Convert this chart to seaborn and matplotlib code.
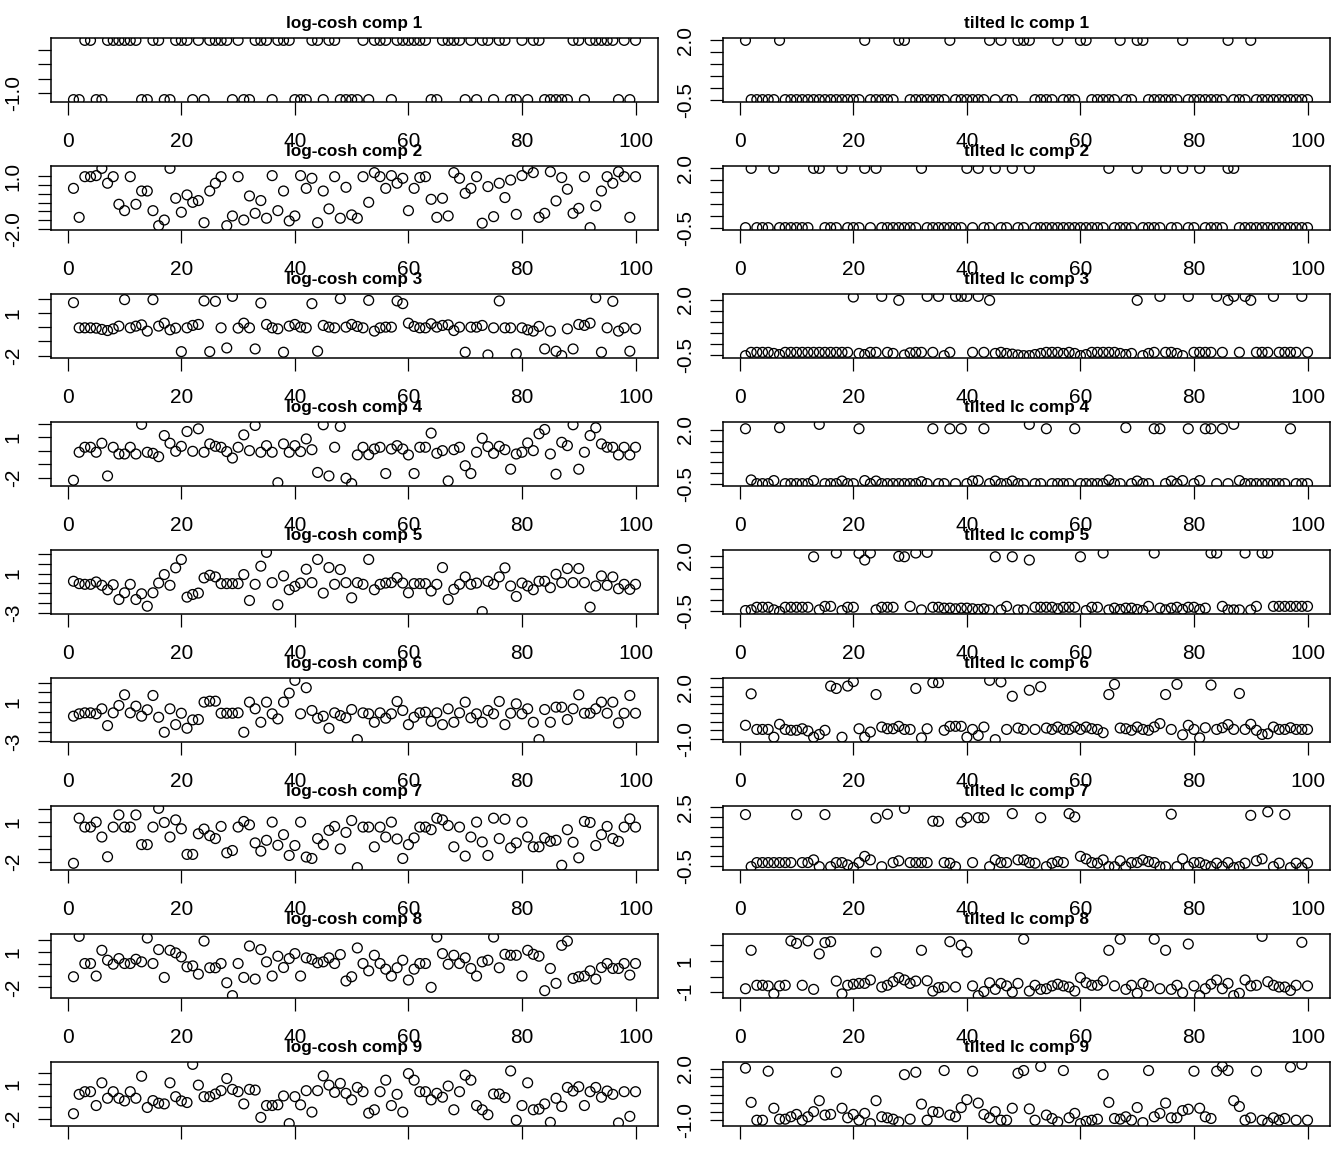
import pandas as pd
import seaborn as sns
import matplotlib
matplotlib.use("Agg")
import matplotlib.pyplot as plt

# observation index shared by every panel
obs = list(range(1, 101))

logcosh_1 = [-1.22, -1.22, 0.82, 0.82, -1.22, -1.22, 0.82, 0.82, 0.82, 0.82,
             0.82, 0.82, -1.22, -1.22, 0.82, 0.82, -1.22, -1.22, 0.82, 0.82,
             0.82, -1.22, 0.82, -1.22, 0.82, 0.82, 0.82, 0.82, -1.22, 0.82,
             -1.22, -1.22, 0.82, 0.82, 0.82, -1.22, 0.82, 0.82, 0.82, -1.22,
             -1.22, -1.22, 0.82, 0.82, -1.22, 0.82, 0.82, -1.22, -1.22, -1.22,
             -1.22, 0.82, -1.22, 0.82, 0.82, 0.82, -1.22, 0.82, 0.82, 0.82,
             0.82, 0.82, 0.82, -1.22, -1.22, 0.82, 0.82, 0.82, 0.82, -1.22,
             0.82, -1.22, 0.82, 0.82, -1.22, 0.82, 0.82, -1.22, -1.22, 0.82,
             -1.22, 0.82, 0.82, -1.22, -1.22, -1.22, -1.22, -1.22, 0.82, 0.82,
             -1.22, 0.82, 0.82, 0.82, 0.82, 0.82, -1.22, 0.82, -1.22, 0.82]

logcosh_2 = [0.30, -1.34, 0.96, 0.96, 1.02, 1.43, 0.59, 0.96, -0.60, -0.96,
             0.96, -0.60, 0.15, 0.15, -0.96, -1.81, -1.49, 1.43, -0.26, -1.05,
             -0.07, -0.49, -0.39, -1.64, 0.15, 0.59, 0.96, -1.81, -1.26, 0.96,
             -1.49, -0.13, -1.11, -0.39, -1.39, 1.02, -0.96, 0.15, -1.54, -1.26,
             1.02, 0.30, 0.87, -1.64, 0.15, -0.86, 0.96, -1.39, 0.36, -1.20,
             -1.39, 0.96, -0.49, 1.19, 0.96, 0.30, 1.02, 0.59, 0.87, -0.96,
             0.30, 0.91, 0.96, -0.32, -1.34, -0.26, -1.26, 1.19, 0.87, 0.02,
             0.30, 0.96, -1.67, 0.40, -1.30, 0.59, -0.22, 0.77, -1.17, 1.02,
             1.43, 1.19, -1.34, -1.11, 1.24, -0.41, 0.91, 0.25, -1.11, -0.83,
             0.96, -1.92, -0.69, 0.15, 0.96, 0.59, 1.24, 0.96, -1.34, 0.96]

logcosh_3 = [1.72, -0.05, -0.05, -0.05, -0.07, -0.16, -0.24, -0.12, 0.07, 1.93,
             -0.05, 0.07, 0.16, -0.28, 1.93, 0.07, 0.28, -0.19, -0.07, -1.72,
             -0.05, 0.12, 0.19, 1.84, -1.72, 1.81, -0.05, -1.46, 2.16, -0.07,
             0.28, -0.05, -1.53, 1.69, 0.19, -0.05, -0.12, -1.76, 0.07, 0.19,
             0.00, -0.05, 1.65, -1.69, 0.12, 0.00, -0.05, 2.00, 0.00, 0.19,
             0.05, -0.05, 1.88, -0.28, -0.05, 0.00, 0.00, 1.84, 1.65, 0.28,
             0.05, -0.05, -0.05, 0.24, 0.00, 0.12, 0.16, -0.24, 0.00, -1.76,
             0.00, 0.00, 0.12, -1.95, -0.05, 1.84, -0.05, -0.05, -1.88, -0.05,
             -0.19, -0.28, 0.05, -1.53, -0.28, -1.69, -2.00, -0.12, -1.53, 0.19,
             0.12, 0.28, 2.07, -1.76, -0.05, 1.81, -0.28, -0.05, -1.69, -0.12]

logcosh_4 = [-2.20, -0.12, 0.25, 0.25, -0.12, 0.55, -1.88, 0.25, -0.25, -0.25,
             0.25, -0.25, 1.95, -0.12, -0.20, -0.45, 1.12, 0.55, -0.05, 0.32,
             1.42, -0.05, 1.62, -0.12, 0.50, 0.32, 0.25, -0.07, -0.55, 0.25,
             1.17, 0.00, 1.87, -0.12, 0.37, -0.12, -2.38, 0.50, -0.12, 0.37,
             -0.07, 0.87, 0.07, -1.62, 1.92, -1.88, 0.25, 1.80, -2.05, -2.45,
             -0.32, 0.25, -0.30, 0.12, 0.25, -1.70, 0.12, 0.37, 0.12, -0.32,
             -1.70, 0.25, 0.25, 1.30, -0.20, 0.00, -2.25, 0.07, 0.25, -1.12,
             -1.70, -0.12, 0.92, 0.30, -0.20, 0.32, 0.07, -1.38, -0.25, -0.12,
             0.57, 0.00, 1.25, 1.57, -0.25, -1.75, 0.62, 0.37, 1.92, -1.38,
             -0.12, 1.12, 1.70, 0.50, 0.25, 0.25, -0.32, 0.25, -0.32, 0.25]

logcosh_5 = [0.22, -0.02, -0.09, -0.09, 0.15, -0.19, -0.64, -0.13, -1.63, -0.95,
             -0.09, -1.63, -1.05, -2.31, -0.95, 0.04, 0.90, -0.19, 1.58, 2.43,
             -1.39, -1.12, -0.98, 0.56, 0.83, 0.66, -0.02, -0.02, -0.02, -0.02,
             0.90, -1.73, -0.09, 1.75, 3.15, 0.08, -2.17, 0.76, -0.64, -0.30,
             0.04, 1.44, 0.08, 2.43, -0.98, 1.61, -0.09, 1.41, 0.08, -1.46,
             0.08, -0.09, 2.43, -0.64, -0.09, 0.04, 0.08, 0.59, 0.04, -0.95,
             -0.02, -0.02, -0.02, -0.77, -0.09, 1.61, -1.63, -0.60, -0.09, 0.66,
             -0.09, 0.04, -2.86, 0.22, -0.09, 0.66, 1.58, -0.26, -1.32, 0.04,
             -0.26, -0.64, 0.22, 0.22, -0.43, 0.93, 0.08, 1.51, 0.08, 1.51,
             0.08, -2.41, -0.26, 0.76, -0.19, 0.66, -0.54, -0.09, -0.60, -0.09]

logcosh_6 = [-0.43, -0.19, -0.09, -0.09, -0.19, 0.32, -1.39, -0.09, 0.66, 1.75,
             -0.09, 0.59, -0.43, 0.22, 1.68, -0.54, -2.07, 0.32, -1.29, -0.13,
             -1.66, -0.81, -0.77, 1.00, 1.10, 1.10, -0.13, -0.13, -0.13, -0.09,
             -2.07, 1.00, 0.32, -1.05, 1.00, -0.19, -0.71, 1.00, 1.92, 3.22,
             -0.19, 2.47, 0.15, -0.64, -0.43, -1.66, -0.09, -0.37, -0.60, 0.25,
             -2.82, -0.09, -0.19, -1.05, -0.09, -0.64, -0.19, 1.07, 0.15, -1.29,
             -0.54, -0.09, -0.02, -0.95, -0.09, -1.29, 0.32, -1.05, -0.09, 1.00,
             -0.60, -0.19, -1.05, 0.15, -0.19, 1.07, -1.29, -0.13, 0.83, -0.19,
             0.32, -1.05, -2.82, 0.25, -1.05, 0.49, 0.49, -0.77, 0.32, 1.75,
             -0.13, -0.13, 0.32, 1.00, -0.13, 1.00, -1.12, -0.13, 1.68, -0.13]

logcosh_7 = [-2.12, 1.33, 0.65, 0.65, 1.03, -0.11, -1.62, 0.65, 1.58, 0.65,
             0.65, 1.58, -0.69, -0.69, 0.65, 2.08, 1.00, -0.11, 1.20, 0.52,
             -1.44, -1.44, 0.14, 0.50, -0.01, -0.23, 0.70, -1.32, -1.14, 0.65,
             1.08, 0.82, -0.56, -1.19, -0.36, 1.03, -0.74, 0.07, -1.52, -0.76,
             1.03, -1.64, -1.75, -0.23, -0.69, 0.40, 0.70, -1.02, 0.24, 1.15,
             -2.45, 0.65, 0.65, -0.86, 0.65, -0.11, 1.03, -0.26, -1.75, -0.69,
             -0.18, 0.65, 0.65, 0.45, 1.33, 1.20, 0.77, -0.86, 0.65, -1.57,
             -0.11, 1.03, -0.49, -1.52, 1.33, -0.23, 1.25, -0.94, -0.56, 1.03,
             -0.11, -0.86, -0.86, -0.18, -0.44, -0.36, -2.27, 0.45, -0.51, -1.70,
             1.08, 1.00, -0.76, 0.07, 0.70, -0.23, -0.44, 0.65, 1.28, 0.65]

logcosh_8 = [-1.10, 2.32, 0.02, 0.02, -1.04, 1.14, 0.30, -0.04, 0.44, 0.02,
             0.02, 0.38, 0.16, 2.18, 0.02, 1.20, -1.16, 1.14, 0.92, 0.58,
             -0.26, -0.18, -0.88, 1.92, -0.34, -0.34, 0.02, -1.61, -2.70, 0.02,
             -1.16, 1.50, -1.30, 1.20, 0.16, -1.04, 0.64, -0.32, 0.44, 0.86,
             -1.04, 0.50, 0.38, 0.08, 0.16, 0.50, 0.02, 0.78, -1.46, -1.10,
             1.34, 0.02, -0.60, 0.72, 0.02, -0.46, -1.04, -0.34, 0.30, -1.38,
             -0.46, 0.02, 0.02, -2.00, 2.26, 0.86, -0.04, 0.72, 0.02, 0.50,
             -0.40, -1.04, 0.16, 0.30, 2.26, -0.34, 0.80, 0.72, 0.72, -1.04,
             1.14, 0.80, 0.64, -2.28, -0.40, -1.66, 1.56, 1.92, -1.24, -1.10,
             -1.04, -0.60, -1.30, -0.32, 0.02, -0.40, -0.40, 0.02, -0.96, 0.02]

logcosh_9 = [-1.54, 0.14, 0.37, 0.37, -0.83, 1.14, -0.20, 0.37, -0.20, -0.43,
             0.37, -0.20, 1.71, -1.00, -0.40, -0.63, -0.69, 1.14, -0.06, -0.43,
             -0.57, 2.74, 0.94, -0.06, -0.06, 0.17, 0.46, 1.51, 0.57, 0.37,
             -0.69, 0.57, 0.51, -1.86, -0.83, -0.83, -0.77, 0.00, -2.40, -0.06,
             -0.77, 0.46, -1.40, 0.46, 1.74, 0.94, 0.31, 1.09, 0.23, -0.34,
             0.74, 0.37, -1.49, -1.20, 0.37, 1.37, -0.83, 0.14, -1.40, 1.94,
             1.37, 0.37, 0.37, -0.34, 0.23, -0.11, 0.86, -1.20, 0.37, 1.80,
             1.37, -0.83, -1.20, -1.63, 0.17, 0.17, -0.14, 2.17, -2.11, -0.83,
             1.14, -1.20, -1.14, -0.69, -2.29, -0.20, -0.91, 0.74, 0.43, 0.80,
             -0.83, 0.37, 0.74, -0.11, 0.43, 0.14, -2.34, 0.37, -1.77, 0.37]

tilted_1 = [2.0, -0.5, -0.5, -0.5, -0.5, -0.5, 2.0, -0.5, -0.5, -0.5,
            -0.5, -0.5, -0.5, -0.5, -0.5, -0.5, -0.5, -0.5, -0.5, -0.5,
            -0.5, 2.0, -0.5, -0.5, -0.5, -0.5, -0.5, 2.0, 2.0, -0.5,
            -0.5, -0.5, -0.5, -0.5, -0.5, -0.5, 2.0, -0.5, -0.5, -0.5,
            -0.5, -0.5, -0.5, 2.0, -0.5, 2.0, -0.5, -0.5, 2.0, 2.0,
            2.0, -0.5, -0.5, -0.5, -0.5, 2.0, -0.5, -0.5, -0.5, 2.0,
            2.0, -0.5, -0.5, -0.5, -0.5, -0.5, 2.0, -0.5, -0.5, 2.0,
            2.0, -0.5, -0.5, -0.5, -0.5, -0.5, -0.5, 2.0, -0.5, -0.5,
            -0.5, -0.5, -0.5, -0.5, -0.5, 2.0, -0.5, -0.5, -0.5, 2.0,
            -0.5, -0.5, -0.5, -0.5, -0.5, -0.5, -0.5, -0.5, -0.5, -0.5]

tilted_2 = [-0.5, 2.0, -0.5, -0.5, -0.5, 2.0, -0.5, -0.5, -0.5, -0.5,
            -0.5, -0.5, 2.0, 2.0, -0.5, -0.5, -0.5, 2.0, -0.5, -0.5,
            -0.5, 2.0, -0.5, 2.0, -0.5, -0.5, -0.5, -0.5, -0.5, -0.5,
            -0.5, 2.0, -0.5, -0.5, -0.5, -0.5, -0.5, -0.5, -0.5, 2.0,
            -0.5, 2.0, -0.5, -0.5, 2.0, -0.5, -0.5, 2.0, -0.5, -0.5,
            2.0, -0.5, -0.5, -0.5, -0.5, -0.5, -0.5, -0.5, -0.5, -0.5,
            -0.5, -0.5, -0.5, -0.5, 2.0, -0.5, -0.5, -0.5, -0.5, 2.0,
            -0.5, -0.5, -0.5, -0.5, 2.0, -0.5, -0.5, 2.0, -0.5, -0.5,
            2.0, -0.5, -0.5, -0.5, -0.5, 2.0, 2.0, -0.5, -0.5, -0.5,
            -0.5, -0.5, -0.5, -0.5, -0.5, -0.5, -0.5, -0.5, -0.5, -0.5]

tilted_3 = [-0.55, -0.40, -0.40, -0.40, -0.40, -0.45, -0.50, -0.40, -0.40, -0.40,
            -0.40, -0.40, -0.40, -0.40, -0.40, -0.40, -0.40, -0.40, -0.40, 2.12,
            -0.45, -0.50, -0.40, -0.40, 2.15, -0.40, -0.45, 1.97, -0.52, -0.42,
            -0.40, -0.40, 2.15, -0.40, 2.15, -0.55, -0.40, 2.15, 2.15, 2.15,
            -0.40, 2.15, -0.40, 1.97, -0.45, -0.40, -0.45, -0.48, -0.52, -0.55,
            -0.55, -0.50, -0.45, -0.40, -0.40, -0.40, -0.45, -0.40, -0.45, -0.55,
            -0.50, -0.40, -0.40, -0.40, -0.40, -0.40, -0.45, -0.50, -0.45, 1.97,
            -0.55, -0.45, -0.40, 2.15, -0.40, -0.40, -0.45, -0.55, 2.15, -0.40,
            -0.40, -0.40, -0.40, 2.15, -0.40, 1.97, 2.15, -0.40, 2.15, 1.97,
            -0.40, -0.40, -0.40, 2.15, -0.40, -0.40, -0.40, -0.40, 2.15, -0.40]

tilted_4 = [2.05, -0.30, -0.47, -0.47, -0.47, -0.33, 2.10, -0.47, -0.47, -0.47,
            -0.47, -0.47, -0.33, 2.25, -0.47, -0.47, -0.47, -0.35, -0.47, -0.47,
            2.05, -0.33, -0.47, -0.35, -0.47, -0.47, -0.47, -0.47, -0.47, -0.47,
            -0.47, -0.38, -0.47, 2.05, -0.47, -0.47, 2.05, -0.47, 2.05, -0.47,
            -0.35, -0.33, 2.05, -0.47, -0.35, -0.47, -0.47, -0.35, -0.47, -0.47,
            2.25, -0.47, -0.47, 2.05, -0.47, -0.47, -0.47, -0.47, 2.05, -0.47,
            -0.47, -0.47, -0.47, -0.47, -0.30, -0.47, -0.47, 2.10, -0.47, -0.35,
            -0.47, -0.47, 2.05, 2.05, -0.47, -0.35, -0.47, -0.33, 2.05, -0.47,
            -0.33, 2.05, 2.05, -0.47, 2.05, -0.47, 2.25, -0.33, -0.47, -0.47,
            -0.47, -0.47, -0.47, -0.47, -0.47, -0.47, 2.05, -0.47, -0.47, -0.47]

tilted_5 = [-0.50, -0.47, -0.35, -0.35, -0.35, -0.47, -0.55, -0.35, -0.35, -0.35,
            -0.35, -0.35, 1.95, -0.47, -0.31, -0.31, 2.12, -0.50, -0.35, -0.35,
            2.11, 1.80, 2.12, -0.47, -0.35, -0.35, -0.35, 1.97, 1.95, -0.31,
            2.12, -0.47, 2.15, -0.35, -0.35, -0.39, -0.39, -0.42, -0.39, -0.39,
            -0.42, -0.45, -0.42, -0.47, 1.95, -0.47, -0.31, 1.95, -0.47, -0.47,
            1.80, -0.35, -0.35, -0.35, -0.35, -0.42, -0.35, -0.35, -0.35, 1.95,
            -0.50, -0.35, -0.35, 2.12, -0.47, -0.39, -0.45, -0.39, -0.39, -0.45,
            -0.50, -0.31, 2.12, -0.39, -0.47, -0.39, -0.35, -0.45, -0.35, -0.35,
            -0.45, -0.39, 2.12, 2.12, -0.31, -0.47, -0.47, -0.47, 2.12, -0.47,
            -0.31, 2.12, 2.12, -0.31, -0.31, -0.31, -0.31, -0.31, -0.31, -0.31]

tilted_6 = [-0.21, 1.61, -0.45, -0.45, -0.45, -0.90, -0.15, -0.45, -0.50, -0.50,
            -0.41, -0.54, -0.90, -0.74, -0.50, 2.06, 1.92, -0.90, 2.06, 2.32,
            -0.41, -0.90, -0.60, 1.57, -0.31, -0.41, -0.41, -0.27, -0.45, -0.45,
            1.92, -0.94, -0.41, 2.26, 2.26, -0.50, -0.27, -0.27, -0.27, -0.90,
            -0.45, -0.80, -0.31, 2.39, -1.04, 2.30, -0.45, 1.47, -0.37, -0.45,
            1.82, -0.45, 2.02, -0.37, -0.45, -0.31, -0.45, -0.45, -0.31, -0.45,
            -0.31, -0.41, -0.45, -0.64, 1.57, 2.16, -0.37, -0.41, -0.50, -0.31,
            -0.45, -0.50, -0.31, -0.11, 1.57, -0.45, 2.16, -0.76, -0.21, -0.45,
            -0.94, -0.35, 2.12, -0.45, -0.35, -0.17, -0.45, 1.63, -0.45, -0.15,
            -0.50, -0.74, -0.70, -0.31, -0.45, -0.45, -0.35, -0.45, -0.45, -0.45]

tilted_7 = [2.13, -0.55, -0.34, -0.34, -0.34, -0.34, -0.34, -0.34, -0.34, 2.13,
            -0.34, -0.34, -0.20, -0.55, 2.13, -0.55, -0.34, -0.34, -0.46, -0.60,
            -0.34, -0.02, -0.20, 1.95, -0.55, 2.15, -0.34, -0.25, 2.45, -0.34,
            -0.34, -0.34, -0.34, 1.79, 1.78, -0.34, -0.37, -0.55, 1.74, 1.97,
            -0.34, 1.97, 1.97, -0.55, -0.20, -0.34, -0.34, 2.18, -0.20, -0.20,
            -0.34, -0.37, 1.97, -0.55, -0.37, -0.29, -0.34, 2.18, 2.01, -0.02,
            -0.15, -0.34, -0.37, -0.20, -0.55, -0.55, -0.25, -0.55, -0.34, -0.34,
            -0.20, -0.29, -0.34, -0.55, -0.55, 2.15, -0.55, -0.15, -0.55, -0.34,
            -0.34, -0.46, -0.55, -0.37, -0.55, -0.34, -0.60, -0.55, -0.37, 2.09,
            -0.25, -0.15, 2.27, -0.55, -0.37, 2.13, -0.60, -0.37, -0.60, -0.37]

tilted_8 = [-0.78, 1.67, -0.56, -0.56, -0.60, -1.11, -0.60, -0.56, 2.27, 2.11,
            -0.56, 2.27, -0.82, 1.44, 2.16, 2.22, -0.29, -1.11, -0.56, -0.49,
            -0.44, -0.44, -0.22, 1.56, -0.67, -0.56, -0.33, -0.07, -0.22, -0.44,
            -0.29, 1.67, -0.27, -0.93, -0.71, -0.67, 2.22, -0.67, 2.00, 1.56,
            -0.60, -1.22, -0.96, -0.40, -0.82, -0.44, -0.60, -1.00, -0.44, 2.38,
            -0.93, -0.56, -0.82, -0.78, -0.60, -0.49, -0.60, -0.67, -0.93, -0.07,
            -0.40, -0.56, -0.56, -0.27, 1.67, -0.60, 2.38, -0.82, -0.56, -1.07,
            -0.44, -0.60, 2.38, -0.78, 1.67, -0.82, -0.56, -1.04, 2.07, -0.60,
            -1.22, -0.78, -0.49, -0.22, -0.78, -0.44, -1.22, -1.07, -0.22, -0.60,
            -0.56, 2.56, -0.33, -0.56, -0.67, -0.67, -0.89, -0.56, 2.18, -0.60]

tilted_9 = [2.04, 0.04, -1.00, -1.00, 1.86, -0.30, -0.94, -0.94, -0.80, -0.66,
            -1.00, -0.80, -0.50, 0.14, -0.70, -0.66, 1.80, -0.30, -0.86, -0.66,
            -1.00, -0.60, -1.20, 0.14, -0.80, -0.86, -0.94, -1.10, 1.66, -0.94,
            1.80, -0.06, -1.00, -0.50, -0.54, 1.90, -0.70, -0.80, -0.26, 0.20,
            1.86, 0.00, -0.66, -0.86, -0.50, -1.00, -1.00, -0.30, 1.74, 1.90,
            -0.34, -1.00, 2.14, -0.70, -0.90, -1.10, 1.90, -0.86, -0.60, -1.20,
            -1.06, -1.00, -0.94, 1.66, 0.04, -0.90, -0.94, -0.80, -1.00, -0.26,
            -1.14, 1.90, -0.80, -0.60, 0.00, -0.86, -0.86, -0.44, -0.36, 1.86,
            -0.30, -0.80, -0.90, 1.86, 2.14, 1.90, 0.14, -0.20, -1.00, -0.86,
            1.86, -1.00, -1.14, -0.86, -1.00, -0.90, 2.10, -1.00, 2.26, -1.00]

logcosh_comps = [logcosh_1, logcosh_2, logcosh_3, logcosh_4, logcosh_5,
                 logcosh_6, logcosh_7, logcosh_8, logcosh_9]
tilted_comps = [tilted_1, tilted_2, tilted_3, tilted_4, tilted_5,
                tilted_6, tilted_7, tilted_8, tilted_9]

# y axis ticks and the labels R actually printed (others dropped for overlap)
half_steps = [-1.0, -0.5, 0.0, 0.5, 1.0, 1.5, 2.0, 2.5]
logcosh_yticks = [[-1.0, -0.5, 0.0, 0.5],
                  [-2.0, -1.5, -1.0, -0.5, 0.0, 0.5, 1.0],
                  [-2, -1, 0, 1, 2], [-2, -1, 0, 1, 2],
                  [-3, -2, -1, 0, 1, 2, 3], [-3, -2, -1, 0, 1, 2, 3],
                  [-2, -1, 0, 1, 2], [-2, -1, 0, 1, 2], [-2, -1, 0, 1, 2]]
logcosh_ylabels = [{-1.0: "-1.0"}, {-2.0: "-2.0", 1.0: "1.0"},
                   {-2: "-2", 1: "1"}, {-2: "-2", 1: "1"},
                   {-3: "-3", 1: "1"}, {-3: "-3", 1: "1"},
                   {-2: "-2", 1: "1"}, {-2: "-2", 1: "1"}, {-2: "-2", 1: "1"}]
tilted_yticks = [half_steps, half_steps, half_steps, half_steps, half_steps,
                 half_steps, half_steps, [-1, 0, 1, 2], half_steps]
tilted_ylabels = [{-0.5: "-0.5", 2.0: "2.0"}, {-0.5: "-0.5", 2.0: "2.0"},
                  {-0.5: "-0.5", 2.0: "2.0"}, {-0.5: "-0.5", 2.0: "2.0"},
                  {-0.5: "-0.5", 2.0: "2.0"}, {-1.0: "-1.0", 2.0: "2.0"},
                  {-0.5: "-0.5", 2.5: "2.5"}, {-1: "-1", 1: "1"},
                  {-1.0: "-1.0", 2.0: "2.0"}]
x_ticks = [0, 20, 40, 60, 80, 100]


def draw_panel(ax, values, title, yticks, ylabels):
    df = pd.DataFrame({"obs": obs, "value": values})
    sns.scatterplot(data=df, x="obs", y="value", ax=ax, marker="o", s=50,
                    legend=False)
    pts = ax.collections[-1]
    pts.set_facecolor("none")
    pts.set_edgecolor("black")
    pts.set_linewidth(0.95)

    # R style 4% padding on both axes
    xpad = 0.04 * (max(obs) - min(obs))
    lo, hi = min(values), max(values)
    ypad = 0.04 * (hi - lo)
    ax.set_xlim(min(obs) - xpad, max(obs) + xpad)

    ax.set_xticks(x_ticks)
    ax.set_xticklabels([str(t) for t in x_ticks])
    shown = [t for t in yticks if lo - ypad <= t <= hi + ypad]
    ax.set_yticks(shown)
    ax.set_yticklabels([ylabels.get(t, "") for t in shown])
    ax.set_ylim(lo - ypad, hi + ypad)

    ax.set_xlabel("")
    ax.set_ylabel("")
    ax.set_title(title, fontsize=12.3, fontweight="bold", pad=7, color="black")
    ax.tick_params(axis="both", direction="out", length=9.4, width=0.9,
                   colors="black", labelsize=15)
    ax.tick_params(axis="x", pad=12)
    ax.tick_params(axis="y", pad=11, labelrotation=90)
    for lab in ax.get_yticklabels():
        lab.set_verticalalignment("center")
    for sp in ax.spines.values():
        sp.set_visible(True)
        sp.set_color("black")
        sp.set_linewidth(1.1)


def main():
    sns.set_theme(style="ticks")
    plt.rcParams["font.family"] = ["Liberation Sans", "DejaVu Sans"]
    plt.rcParams["text.color"] = "black"

    fig = plt.figure(figsize=(13.44, 11.52), dpi=100)
    W, H = 1344.0, 1152.0
    for r in range(9):
        top = 38 + 128 * r
        bottom = 1 - (top + 64) / H
        ax_l = fig.add_axes([51 / W, bottom, 607 / W, 64 / H])
        draw_panel(ax_l, logcosh_comps[r], "log-cosh comp %d" % (r + 1),
                   logcosh_yticks[r], logcosh_ylabels[r])
        ax_r = fig.add_axes([723 / W, bottom, 607 / W, 64 / H])
        draw_panel(ax_r, tilted_comps[r], "tilted lc comp %d" % (r + 1),
                   tilted_yticks[r], tilted_ylabels[r])

    fig.savefig("out.png", dpi=100, facecolor="white")


main()
